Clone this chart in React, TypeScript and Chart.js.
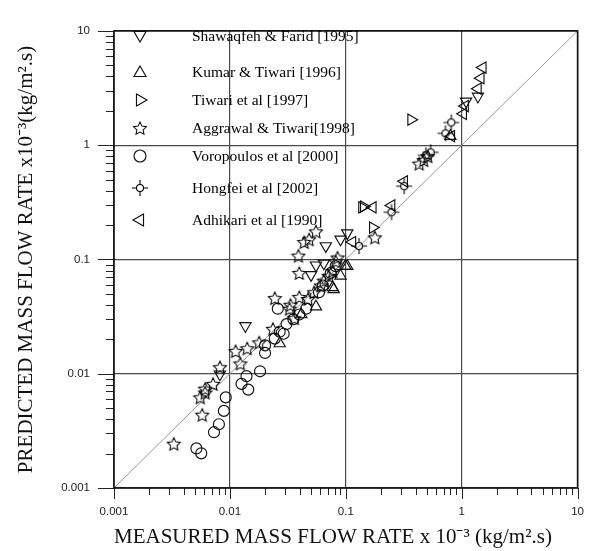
import React, { useEffect, useRef } from 'react';
import { Chart, registerables } from 'chart.js';
Chart.register(...registerables);

const seriesLabels = [
  'Shawaqfeh & Farid [1995]',
  'Kumar & Tiwari [1996]',
  'Tiwari et al [1997]',
  'Aggrawal & Tiwari[1998]',
  'Voropoulos et al [2000]',
  'Hongfei et al [2002]',
  'Adhikari et al [1990]',
];

const shawaqfeh: number[][] = [
  [0.0136, 0.0262], [0.0082, 0.0099], [0.0672, 0.131], [0.09, 0.15], [0.103, 0.17],
  [0.0553, 0.0889], [0.0646, 0.0925], [0.0502, 0.0733], [1.09, 2.42], [1.38, 2.67],
];
const kumar: number[][] = [
  [0.0269, 0.0184], [0.0553, 0.0386], [0.0771, 0.0569], [0.09, 0.0719], [0.0993, 0.0873],
  [0.0785, 0.0547], [0.103, 0.0873], [0.0413, 0.033], [0.798, 1.2],
];
const tiwari: number[][] = [
  [0.366, 1.67], [0.138, 0.286], [0.143, 0.29], [0.171, 0.19],
];
const aggrawal: number[][] = [
  [0.00328, 0.00244], [0.00577, 0.00438], [0.00555, 0.00621], [0.00612, 0.00685], [0.00612, 0.0074],
  [0.00715, 0.00815], [0.0082, 0.0114], [0.0123, 0.0123], [0.0112, 0.0158], [0.0141, 0.0167],
  [0.0179, 0.0188], [0.0235, 0.0247], [0.0244, 0.0459], [0.0333, 0.0401], [0.0397, 0.0469],
  [0.0397, 0.0762], [0.039, 0.108], [0.0438, 0.142], [0.0482, 0.15], [0.0553, 0.176],
  [0.0327, 0.0371], [0.036, 0.0306], [0.0817, 0.0962], [0.0771, 0.0792], [0.0849, 0.104],
  [0.0713, 0.0719], [0.0646, 0.0652], [0.061, 0.0592], [0.0532, 0.0516], [0.0473, 0.0451],
  [0.178, 0.156], [0.43, 0.69], [0.47, 0.74], [0.51, 0.8],
];
const voropoulos: number[][] = [
  [0.00514, 0.00222], [0.00566, 0.00201], [0.00729, 0.00308], [0.00804, 0.00361], [0.00887, 0.00473],
  [0.00921, 0.00621], [0.0126, 0.00815], [0.0144, 0.00726], [0.0139, 0.00952], [0.0182, 0.0105],
  [0.0201, 0.0152], [0.0201, 0.0177], [0.0244, 0.0203], [0.0291, 0.0224], [0.0308, 0.0272],
  [0.0353, 0.03], [0.0397, 0.033], [0.0455, 0.0371], [0.0587, 0.0516], [0.0634, 0.0592],
  [0.0259, 0.0371], [0.0269, 0.0233], [0.0741, 0.0762], [0.0817, 0.0873],
];
const hongfei: number[][] = [
  [0.13, 0.131], [0.248, 0.259], [0.319, 0.438], [0.49, 0.815], [0.54, 0.865], [0.724, 1.27], [0.813, 1.58],
];
const adhikari: number[][] = [
  [0.171, 0.286], [0.248, 0.297], [0.319, 0.483], [0.114, 0.142], [0.813, 1.2],
  [1.03, 1.88], [1.38, 3.12], [1.46, 3.86], [1.52, 4.78], [1.07, 2.2],
];
const diagonal: number[][] = [[0.001, 0.001], [10, 10]];

const decadeValues = [0.001, 0.01, 0.1, 1, 10];
const decadeLabels = ['0.001', '0.01', '0.1', '1', '10'];

const xTitle = 'MEASURED MASS FLOW RATE x 10\u207B\u00B3 (kg/m\u00B2.s)';
const yTitle = 'PREDICTED MASS FLOW RATE x10\u207B\u00B3(kg/m\u00B2.s)';

const allTicks: number[] = [];
for (let e = -3; e <= 0; e++) {
  for (let m = 1; m <= 9; m++) allTicks.push(Number((m * Math.pow(10, e)).toPrecision(3)));
}
allTicks.push(10);

const decadeIndex = (v: number) => decadeValues.findIndex((d) => Math.abs(d - v) / d < 1e-6);

function starPath(ctx: CanvasRenderingContext2D, cx: number, cy: number, ro: number, ri: number) {
  ctx.beginPath();
  for (let i = 0; i < 10; i++) {
    const r = i % 2 ? ri : ro;
    const a = -Math.PI / 2 + (i * Math.PI) / 5;
    const px = cx + r * Math.cos(a);
    const py = cy + r * Math.sin(a);
    if (i) ctx.lineTo(px, py); else ctx.moveTo(px, py);
  }
  ctx.closePath();
}

function makeStar(): HTMLCanvasElement {
  const s = 16;
  const c = document.createElement('canvas');
  c.width = s; c.height = s;
  const ctx = c.getContext('2d')!;
  ctx.strokeStyle = '#000';
  ctx.lineWidth = 1.05;
  starPath(ctx, s / 2, s / 2 + 0.8, 6.8, 3.3);
  ctx.stroke();
  return c;
}

function makeHong(): HTMLCanvasElement {
  const s = 18;
  const c = document.createElement('canvas');
  c.width = s; c.height = s;
  const ctx = c.getContext('2d')!;
  const m = s / 2;
  ctx.strokeStyle = '#000';
  ctx.lineWidth = 1.1;
  ctx.beginPath();
  ctx.arc(m, m, 3.5, 0, Math.PI * 2);
  ctx.stroke();
  ctx.beginPath();
  ctx.moveTo(m, m - 3.5); ctx.lineTo(m, m - 8);
  ctx.moveTo(m, m + 3.5); ctx.lineTo(m, m + 8);
  ctx.moveTo(m - 3.5, m); ctx.lineTo(m - 8, m);
  ctx.moveTo(m + 3.5, m); ctx.lineTo(m + 8, m);
  ctx.stroke();
  return c;
}

function drawTri(ctx: CanvasRenderingContext2D, x: number, y: number, r: number, rotDeg: number) {
  let rad = (rotDeg * Math.PI) / 180;
  ctx.beginPath();
  for (let i = 0; i < 3; i++) {
    const px = x + Math.sin(rad) * r;
    const py = y - Math.cos(rad) * r;
    if (i) ctx.lineTo(px, py); else ctx.moveTo(px, py);
    rad += (2 * Math.PI) / 3;
  }
  ctx.closePath();
  ctx.stroke();
}

export default function App() {
  const ref = useRef<HTMLCanvasElement>(null);
  useEffect(() => {
    const star = makeStar();
    const hong = makeHong();
    const toXY = (a: number[][]) => a.map(([x, y]) => ({ x, y }));
    const ink = '#111';
    const base = { borderColor: ink, backgroundColor: 'rgba(0,0,0,0)', pointBorderWidth: 1.15 };

    const legendRows = [36, 72, 100, 128, 156, 188, 220];
    const legendPlugin = {
      id: 'frameLegend',
      afterDraw(chart: any) {
        const { ctx, chartArea, scales } = chart;
        const { left, right, top, bottom } = chartArea;
        const xs = scales.x, ys = scales.y;
        ctx.save();
        ctx.strokeStyle = '#222';
        ctx.lineWidth = 1;
        for (const v of allTicks) {
          const major = decadeIndex(v) >= 0;
          const px = Math.round(xs.getPixelForValue(v)) + 0.5;
          ctx.beginPath();
          ctx.moveTo(px, bottom);
          ctx.lineTo(px, bottom + (major ? 11 : 7));
          ctx.stroke();
          const py = Math.round(ys.getPixelForValue(v)) + 0.5;
          ctx.beginPath();
          ctx.moveTo(left - (major ? 16 : 8), py);
          ctx.lineTo(left, py);
          ctx.stroke();
        }
        ctx.strokeStyle = '#111';
        ctx.lineWidth = 1.6;
        ctx.strokeRect(left, top, right - left, bottom - top);

        // legend
        ctx.strokeStyle = ink;
        ctx.lineWidth = 1.15;
        const mx = 140;
        const rots = [180, 0, 90, -1, -1, -1, -90];
        seriesLabels.forEach((lab, i) => {
          const y = legendRows[i];
          if (i === 3) {
            ctx.lineWidth = 1.05;
            starPath(ctx, mx, y + 0.8, 6.8, 3.3);
            ctx.stroke();
            ctx.lineWidth = 1.15;
          } else if (i === 5) ctx.drawImage(hong, mx - hong.width / 2, y - hong.height / 2);
          else if (i === 4) {
            ctx.beginPath();
            ctx.arc(mx, y, 6, 0, Math.PI * 2);
            ctx.stroke();
          } else drawTri(ctx, mx, y + (i === 1 ? 1 : i === 0 ? -1 : 0), 7, rots[i]);
          ctx.fillStyle = '#000';
          ctx.font = '15.5px "Liberation Serif", "Times New Roman", serif';
          ctx.textBaseline = 'middle';
          ctx.textAlign = 'left';
          ctx.fillText(lab, 192, y + 1);
        });
        ctx.restore();
      },
    };

    const tickFont = { family: '"Liberation Sans", Arial, sans-serif', size: 11.5 };
    const titleFont = { family: '"Liberation Serif", "Times New Roman", serif', size: 21, lineHeight: 1 };
    const gridColor = (c: any) => (c.tick && decadeIndex(c.tick.value) >= 0 ? '#4a4a4a' : 'rgba(0,0,0,0)');
    const cb = (v: any) => {
      const i = decadeIndex(Number(v));
      return i >= 0 ? decadeLabels[i] : '';
    };
    const setTicks = (s: any) => {
      s.ticks = allTicks.map((v) => ({ value: v, major: decadeIndex(v) >= 0 }));
    };

    const chart = new Chart(ref.current!, {
      type: 'scatter',
      data: {
        datasets: [
          { ...base, label: seriesLabels[0], data: toXY(shawaqfeh), pointStyle: 'triangle', pointRotation: 180, pointRadius: 6.5 },
          { ...base, label: seriesLabels[1], data: toXY(kumar), pointStyle: 'triangle', pointRotation: 0, pointRadius: 6.5 },
          { ...base, label: seriesLabels[2], data: toXY(tiwari), pointStyle: 'triangle', pointRotation: 90, pointRadius: 6.5 },
          { ...base, label: seriesLabels[3], data: toXY(aggrawal), pointStyle: star as any, pointRadius: 6 },
          { ...base, label: seriesLabels[4], data: toXY(voropoulos), pointStyle: 'circle', pointRadius: 5.5 },
          { ...base, label: seriesLabels[5], data: toXY(hongfei), pointStyle: hong as any, pointRadius: 6 },
          { ...base, label: seriesLabels[6], data: toXY(adhikari), pointStyle: 'triangle', pointRotation: -90, pointRadius: 6.5 },
          {
            type: 'line' as any, label: 'diag', data: toXY(diagonal), borderColor: '#9a9a9a', borderWidth: 1,
            pointRadius: 0, showLine: true, fill: false,
          },
        ] as any,
      },
      options: {
        animation: false,
        responsive: true,
        maintainAspectRatio: false,
        devicePixelRatio: 1,
        layout: { padding: { top: 14, right: 14, left: 0, bottom: 0 } },
        plugins: { legend: { display: false }, tooltip: { enabled: false } },
        scales: {
          x: {
            type: 'logarithmic', min: 0.001, max: 10,
            afterBuildTicks: setTicks,
            afterFit: (s: any) => { s.height = 63; },
            grid: { color: gridColor, lineWidth: 1.2, drawTicks: false },
            border: { display: false },
            ticks: { autoSkip: false, maxRotation: 0, minRotation: 0, padding: 17, font: tickFont, color: '#222', callback: cb },
            title: { display: true, text: xTitle, font: titleFont, color: '#111', align: 'start', padding: { top: 0, bottom: 3 } },
          },
          y: {
            type: 'logarithmic', min: 0.001, max: 10,
            afterBuildTicks: setTicks,
            afterFit: (s: any) => { s.width = 114; },
            grid: { color: gridColor, lineWidth: 1.2, drawTicks: false },
            border: { display: false },
            ticks: { autoSkip: false, padding: 24, font: tickFont, color: '#222', callback: cb },
            title: { display: true, text: yTitle, font: titleFont, color: '#111', padding: { top: 16, bottom: 0 } },
          },
        } as any,
      },
      plugins: [legendPlugin],
    });
    return () => chart.destroy();
  }, []);

  return (
    <div style={{ position: 'absolute', left: 0, top: 0, width: 601, height: 551, background: '#fff' }}>
      <canvas ref={ref} />
    </div>
  );
}
